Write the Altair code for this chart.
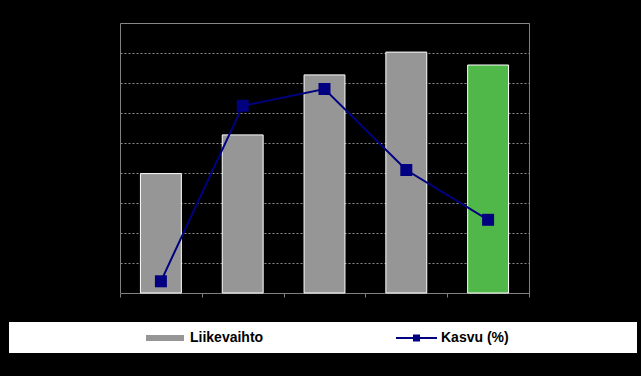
import altair as alt
import pandas as pd

# Data
categories = ["2004", "2005", "2006", "2007", "2008"]
liikevaihto = [39.8, 52.7, 72.7, 80.3, 76.0]
kasvu = [1.95, 31.2, 34.0, 20.5, 12.2]
status = ["toteutunut", "toteutunut", "toteutunut", "toteutunut", "ennuste"]
legend_labels = ["Liikevaihto", "Kasvu (%)"]

GRAY = "#969696"
GREEN = "#50B848"
NAVY = "#000080"
FRAME = "#808080"

df = pd.DataFrame({"vuosi": categories, "liikevaihto": liikevaihto,
                   "kasvu": kasvu, "status": status})

x_enc = alt.X("vuosi:N", sort=categories, title=None,
              scale=alt.Scale(paddingInner=0, paddingOuter=0),
              axis=alt.Axis(labelColor="black", labelAngle=0, domainColor=FRAME,
                            tickColor=FRAME, tickSize=4, tickBand="extent",
                            grid=False))

bars = alt.Chart(df).mark_bar(stroke="white", strokeWidth=1,
                              width=alt.RelativeBandSize(0.5)).encode(
    x=x_enc,
    y=alt.Y("liikevaihto:Q", title=None,
            scale=alt.Scale(domain=[0, 90], nice=False),
            axis=alt.Axis(values=list(range(0, 91, 10)), labels=False,
                          domainColor=FRAME, tickColor="black", tickSize=5,
                          grid=True, gridColor="#8c8c8c", gridDash=[2, 2],
                          gridWidth=1)),
    color=alt.Color("status:N", legend=None,
                    scale=alt.Scale(domain=["toteutunut", "ennuste"],
                                    range=[GRAY, GREEN])),
)

y2 = alt.Y("kasvu:Q", title=None, scale=alt.Scale(domain=[0, 45], nice=False),
           axis=None)

line = alt.Chart(df).mark_line(color=NAVY, strokeWidth=2).encode(
    x=alt.X("vuosi:N", sort=categories), y=y2)
squares = alt.Chart(df).mark_square(color=NAVY, size=144, opacity=1).encode(
    x=alt.X("vuosi:N", sort=categories), y=y2)

main = alt.layer(bars, alt.layer(line, squares)).resolve_scale(y="independent")

one = alt.Data(values=[{"a": 1}])
leg_box = alt.Chart(one).mark_rect(fill="white").encode(
    x=alt.value(-111), x2=alt.value(517), y=alt.value(299), y2=alt.value(330))
leg_bar = alt.Chart(one).mark_rect(fill=GRAY).encode(
    x=alt.value(26), x2=alt.value(64), y=alt.value(312), y2=alt.value(318))
leg_line = alt.Chart(one).mark_rule(color=NAVY, strokeWidth=2).encode(
    x=alt.value(276), x2=alt.value(317), y=alt.value(315))
leg_sq = alt.Chart(one).mark_square(color=NAVY, size=49, opacity=1).encode(
    x=alt.value(296.5), y=alt.value(315))
leg_t1 = alt.Chart(one).mark_text(text=legend_labels[0], align="left",
                                  baseline="middle", font="Liberation Sans",
                                  fontWeight="bold", fontSize=14, color="black").encode(
    x=alt.value(70), y=alt.value(315))
leg_t2 = alt.Chart(one).mark_text(text=legend_labels[1], align="left",
                                  baseline="middle", font="Liberation Sans",
                                  fontWeight="bold", fontSize=14, color="black").encode(
    x=alt.value(321), y=alt.value(315))

chart = alt.layer(main, leg_box, leg_bar, leg_line, leg_sq, leg_t1, leg_t2).properties(
    width=409, height=270,
    autosize=alt.AutoSizeParams(type="none"),
    padding={"left": 120, "top": 23, "right": 112, "bottom": 83},
    background="black",
).configure_view(stroke=FRAME, strokeWidth=1, fill="black")

chart.save("out.html", embed_options={"renderer": "svg", "actions": False})
